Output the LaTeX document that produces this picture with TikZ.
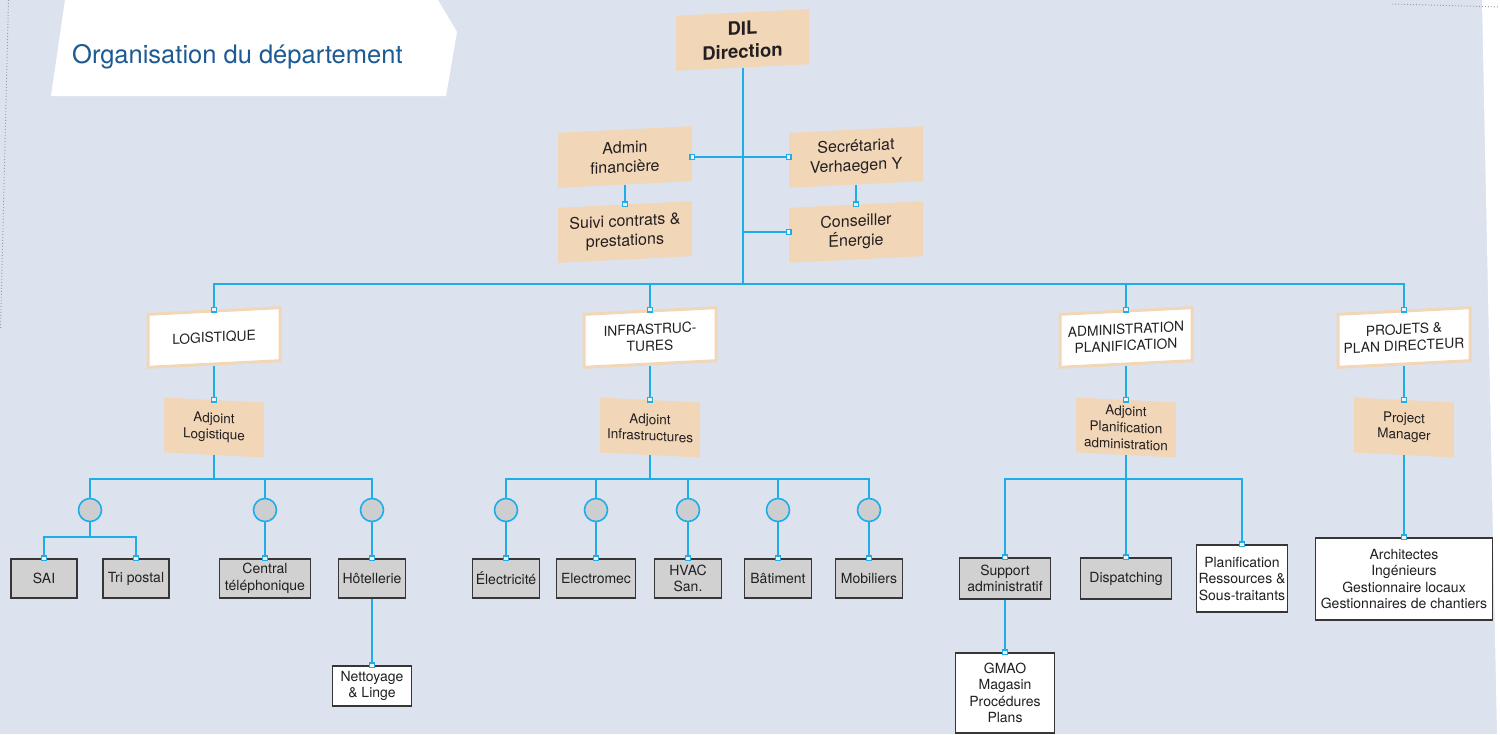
\documentclass[tikz,border=0pt]{standalone}
\usepackage{fontspec}
\setmainfont{TeX Gyre Heros}
\usetikzlibrary{arrows.meta}
\definecolor{bgc}{HTML}{DCE3EE}
\definecolor{beigec}{HTML}{F1D6B7}
\definecolor{cyanc}{HTML}{1EADE8}
\definecolor{grayc}{HTML}{D1D1D1}
\definecolor{darkc}{HTML}{363636}
\definecolor{circc}{HTML}{CDCED1}
\definecolor{txtc}{HTML}{231F20}
\definecolor{titlec}{HTML}{1B5A94}
\definecolor{dotc}{HTML}{9A9EA6}
\begin{document}
\begin{tikzpicture}[x=1pt,y=-1pt,
  tbox/.style={fill=beigec, text=txtc, align=center, inner sep=0pt, minimum width=134pt, minimum height=55pt, yslant=0.05, font=\fontsize{16}{19.5}\selectfont},
  dbox/.style={tbox, minimum width=133pt, font=\fontsize{18.5}{23}\selectfont\bfseries},
  lbox/.style={fill=white, draw=beigec, line width=3pt, text=txtc, align=center, inner sep=0pt, minimum width=132pt, minimum height=53pt, yslant=0.05, font=\fontsize{13.8}{16.5}\selectfont},
  abox/.style={fill=beigec, text=txtc, align=center, inner sep=0pt, minimum width=100pt, minimum height=55pt, yslant=-0.05, font=\fontsize{13.5}{16.5}\selectfont},
  gbox/.style={fill=grayc, draw=darkc, line width=1.5pt, text=txtc, align=center, inner sep=0pt, minimum height=39pt, font=\fontsize{14}{16.5}\selectfont},
  wbox/.style={gbox, fill=white},
  circ/.style={circle, fill=circc, draw=cyanc, line width=1.6pt, minimum size=23pt, inner sep=0pt},
  conn/.style={draw=cyanc, line width=2pt},
  sqt/.tip={Square[length=6pt,width=6pt,fill=white!55!bgc,line width=1.4pt]},
  sq/.style={-sqt, shorten >=-3pt},
  sqs/.style={sqt-sqt, shorten <=-3pt, shorten >=-3pt},
  dots/.style={draw=dotc, line width=0.9pt, dash pattern=on 1pt off 2pt}
]
\useasboundingbox (0,0) rectangle (1500,734);
\fill[bgc] (0,0) rectangle (1500,734);
\fill[white] (1482,0) -- (1500,0) -- (1500,734) -- (1497,734) -- cycle;
\draw[dots] (1392,4) -- (1500,7);
\draw[dots] (8.5,0) -- (0.5,330);
\fill[white] (65,0) -- (438,0) -- (457,32) -- (446,96) -- (51,96) -- cycle;
\node[anchor=base west, text=titlec, font=\fontsize{25.5}{30}\selectfont, inner sep=0pt] (title) at (72,63) {Organisation du département};

% top boxes
\node[dbox] (dil) at (742.5,40) {DIL\\Direction};
\node[tbox] (adm) at (625,157) {Admin\\financière};
\node[tbox] (sec) at (856,157) {Secrétariat\\Verhaegen Y};
\node[tbox] (suivi) at (625,232) {Suivi contrats \&\\prestations};
\node[tbox] (cons) at (856,232) {Conseiller\\Énergie};

% level 2
\node[lbox] (log) at (214,337.5) {LOGISTIQUE};
\node[lbox] (inf) at (650,337.5) {INFRASTRUC-\\TURES};
\node[lbox] (apl) at (1126,337.5) {ADMINISTRATION\\PLANIFICATION};
\node[lbox] (prj) at (1404,337.5) {PROJETS \&\\PLAN DIRECTEUR};

% adjoints
\node[abox] (ajl) at (214,427.5) {Adjoint\\Logistique};
\node[abox] (aji) at (650,427.5) {Adjoint\\Infrastructures};
\node[abox] (aja) at (1126,427.5) {Adjoint\\Planification\\administration};
\node[abox] (pm) at (1404,427.5) {Project\\Manager};

% circles
\node[circ] (c1) at (90,510) {};
\node[circ] (c2) at (265,510) {};
\node[circ] (c3) at (372,510) {};
\node[circ] (i1) at (506,510) {};
\node[circ] (i2) at (596,510) {};
\node[circ] (i3) at (688,510) {};
\node[circ] (i4) at (778,510) {};
\node[circ] (i5) at (869,510) {};

% bottom boxes
\node[gbox, minimum width=66pt] (sai) at (44,578.5) {SAI};
\node[gbox, minimum width=66pt] (tri) at (136,578.5) {Tri postal};
\node[gbox, minimum width=91pt] (cen) at (265,578.5) {Central\\téléphonique};
\node[gbox, minimum width=67pt] (hot) at (372,578.5) {Hôtellerie};
\node[wbox, minimum width=79pt, minimum height=40pt] (net) at (372,686) {Nettoyage\\\& Linge};
\node[gbox, minimum width=67pt] (ele) at (506,578.5) {Électricité};
\node[gbox, minimum width=79pt] (elm) at (596,578.5) {Electromec};
\node[gbox, minimum width=67pt] (hva) at (688,578.5) {HVAC\\San.};
\node[gbox, minimum width=67pt] (bat) at (778,578.5) {Bâtiment};
\node[gbox, minimum width=67pt] (mob) at (869,578.5) {Mobiliers};
\node[gbox, minimum width=91pt, minimum height=41pt] (sup) at (1005,578.5) {Support\\administratif};
\node[gbox, minimum width=91pt, minimum height=41pt] (dis) at (1126,578.5) {Dispatching};
\node[wbox, minimum width=91pt, minimum height=67pt] (pla) at (1242,578.5) {Planification\\Ressources \&\\Sous-traitants};
\node[wbox, minimum width=99pt, minimum height=80pt] (gma) at (1005,693) {GMAO\\Magasin\\Procédures\\Plans};
\node[wbox, minimum width=177pt, minimum height=82pt] (arc) at (1404,579) {Architectes\\Ingénieurs\\Gestionnaire locaux\\Gestionnaires de chantiers};

\coordinate (mb) at (0,284);
\coordinate (lb) at (0,479);
\coordinate (sb) at (0,537);

% top connectors
\draw[conn] (dil.south) -- (dil.south |- mb);
\draw[conn,sq] (dil.south |- mb) -| (log.north);
\draw[conn,sq] (dil.south |- mb) -| (prj.north);
\draw[conn,sq] (inf.north |- mb) -- (inf.north);
\draw[conn,sq] (apl.north |- mb) -- (apl.north);
\draw[conn,sqs] (adm.east |- adm.center) -- (sec.west |- adm.center);
\draw[conn,sq] (dil.south |- cons.center) -- (cons.west |- cons.center);
\draw[conn,sq] (adm.south) -- (suivi.north);
\draw[conn,sq] (sec.south) -- (cons.north);

% level 2 to adjoints
\draw[conn,sq] (log.south) -- (ajl.north);
\draw[conn,sq] (inf.south) -- (aji.north);
\draw[conn,sq] (apl.south) -- (aja.north);
\draw[conn,sq] (prj.south) -- (pm.north);

% logistique
\draw[conn] (ajl.south) -- (ajl.south |- lb);
\draw[conn] (ajl.south |- lb) -| (c1.north);
\draw[conn] (ajl.south |- lb) -| (c3.north);
\draw[conn] (c2.north |- lb) -- (c2.north);
\draw[conn] (c1.south) -- (c1.south |- sb);
\draw[conn,sq] (c1.south |- sb) -| (sai.north);
\draw[conn,sq] (c1.south |- sb) -| (tri.north);
\draw[conn,sq] (c2.south) -- (cen.north);
\draw[conn,sq] (c3.south) -- (hot.north);
\draw[conn,sq] (hot.south) -- (net.north);

% infrastructures
\draw[conn] (aji.south) -- (aji.south |- lb);
\draw[conn] (aji.south |- lb) -| (i1.north);
\draw[conn] (aji.south |- lb) -| (i5.north);
\draw[conn] (i2.north |- lb) -- (i2.north);
\draw[conn] (i3.north |- lb) -- (i3.north);
\draw[conn] (i4.north |- lb) -- (i4.north);
\draw[conn,sq] (i1.south) -- (ele.north);
\draw[conn,sq] (i2.south) -- (elm.north);
\draw[conn,sq] (i3.south) -- (hva.north);
\draw[conn,sq] (i4.south) -- (bat.north);
\draw[conn,sq] (i5.south) -- (mob.north);

% administration
\draw[conn,sq] (aja.south) -- (dis.north);
\draw[conn,sq] (aja.south |- lb) -| (sup.north);
\draw[conn,sq] (aja.south |- lb) -| (pla.north);
\draw[conn,sq] (sup.south) -- (gma.north);

% projets
\draw[conn,sq] (pm.south) -- (arc.north);
\end{tikzpicture}
\end{document}
